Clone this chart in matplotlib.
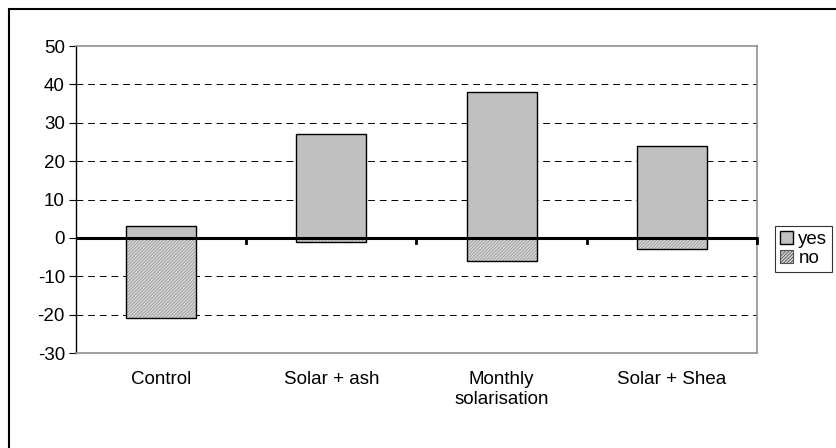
import numpy as np
import matplotlib.pyplot as plt
from matplotlib.patches import Rectangle

categories = ["Control", "Solar + ash", "Monthly\nsolarisation", "Solar + Shea"]
yes_vals = [3, 27, 38, 24]
no_vals = [-21, -1, -6, -3]
yticks = [-30, -20, -10, 0, 10, 20, 30, 40, 50]

plt.rcParams['font.family'] = ['Liberation Sans', 'DejaVu Sans']
plt.rcParams['axes.unicode_minus'] = False
plt.rcParams['hatch.linewidth'] = 0.6

fig = plt.figure(figsize=(8.37, 4.48), dpi=100)
# outer chart frame (only left and top edges fall inside the image)
fig.patches.append(Rectangle((9/837, -0.1), 1.1, 1 - 9.5/448 + 0.1, transform=fig.transFigure,
                             fill=False, edgecolor='black', linewidth=1.5))

ax = fig.add_axes([76/837, 1 - 353/448, 681/837, 307/448])
x = np.arange(len(categories))
bw = 0.41
ax.bar(x, yes_vals, width=bw, color='#c0c0c0', edgecolor='black', linewidth=1.0,
       label='yes', zorder=3)
# hatch drawn in light grey (edge colour), outline drawn on top in black
ax.bar(x, no_vals, width=bw, color='#d4d4d4', edgecolor='#9c9c9c', linewidth=0,
       hatch='//////////', label='no', zorder=3)
ax.bar(x, no_vals, width=bw, fill=False, edgecolor='black', linewidth=1.0, zorder=3)

ax.set_xlim(-0.5, len(categories) - 0.5)
ax.set_ylim(-30, 50)
ax.set_yticks(yticks)
ax.tick_params(axis='y', labelsize=13.5, length=5, direction='out', width=0.8, pad=3)
ax.set_xticks(x)
ax.set_xticklabels(categories, fontsize=13.5)
ax.tick_params(axis='x', length=0, pad=13)

for y in yticks[1:-1]:
    if y != 0:
        ax.axhline(y, color='black', linestyle=(0, (7, 5)), linewidth=0.7, zorder=1)

# zero axis with category-boundary ticks
ax.axhline(0, color='black', linewidth=2.2, zorder=4)
for b in np.arange(0.5, len(categories), 1.0):
    ax.plot([b, b], [0, -1.3], color='black', linewidth=2, zorder=4)
ax.plot([len(categories) - 0.5] * 2, [0, -1.3], color='black', linewidth=2, zorder=4, clip_on=False)

ax.spines['left'].set_color('black')
ax.spines['left'].set_linewidth(1.0)
for s in ['top', 'right', 'bottom']:
    ax.spines[s].set_color('#909090')
    ax.spines[s].set_linewidth(1.2)

handles, labels = ax.get_legend_handles_labels()
leg = fig.legend(handles, labels, loc='upper left', bbox_to_anchor=(775/837, 1 - 226/448),
                 fontsize=13.5, frameon=True, fancybox=False, edgecolor='black',
                 handlelength=0.7, handleheight=0.7, handletextpad=0.3, borderpad=0.25,
                 labelspacing=0.1, borderaxespad=0)
leg.get_frame().set_linewidth(0.8)
leg.legend_handles[1].set_linewidth(0.8)
leg.legend_handles[1].set_edgecolor('#505050')

fig.savefig('out.png', dpi=100)
